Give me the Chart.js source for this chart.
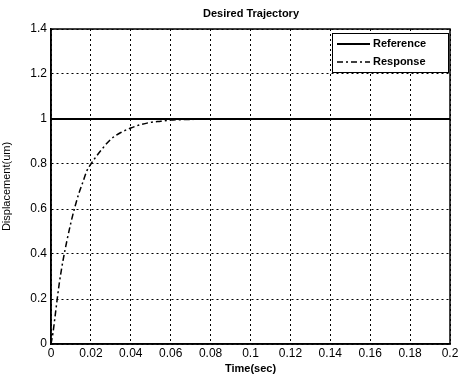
<!DOCTYPE html>
<html lang="en">
<head>
    <meta charset="UTF-8">
    <title>Desired Trajectory</title>
    <script src="https://cdn.jsdelivr.net/npm/chart.js"></script>
    <style>
        html, body { margin: 0; padding: 0; background: #fff; }
        #chartContainer { width: 459px; height: 376px; }
    </style>
</head>
<body>
    <div id="chartContainer">
        <canvas id="myChart"></canvas>
    </div>
    <script>
        // datos
        const timeRef = [0, 0.2];
        const refValues = [1, 1];
        const timeResp = [0, 0.001, 0.002, 0.004, 0.006, 0.008, 0.01, 0.012, 0.014, 0.016, 0.018, 0.02,
            0.025, 0.03, 0.035, 0.04, 0.045, 0.05, 0.055, 0.06, 0.07, 0.08, 0.1, 0.12, 0.14, 0.16, 0.18, 0.2];
        const respValues = [0, 0.05, 0.12, 0.26, 0.37, 0.46, 0.54, 0.61, 0.67, 0.72, 0.77, 0.80,
            0.86, 0.91, 0.94, 0.96, 0.975, 0.985, 0.99, 0.995, 0.998, 1.0, 1.0, 1.0, 1.0, 1.0, 1.0, 1.0];
        const xTicks = [0, 0.02, 0.04, 0.06, 0.08, 0.1, 0.12, 0.14, 0.16, 0.18, 0.2];
        const yTicks = [0, 0.2, 0.4, 0.6, 0.8, 1, 1.2, 1.4];

        const fontName = '"Liberation Sans", Arial, sans-serif';

        const legendBox = {
            id: 'legendBox',
            afterDatasetsDraw(chart) {
                const ctx = chart.ctx;
                const x0 = 332, y0 = 33, w = 116, h = 39;
                ctx.save();
                ctx.fillStyle = '#fff';
                ctx.fillRect(x0, y0, w, h);
                ctx.strokeStyle = '#000';
                ctx.lineWidth = 1;
                ctx.strokeRect(x0 + 0.5, y0 + 0.5, w, h);
                chart.data.datasets.forEach((ds, i) => {
                    const y = y0 + 11 + i * 18;
                    ctx.beginPath();
                    ctx.setLineDash(ds.borderDash || []);
                    ctx.lineWidth = ds.borderWidth;
                    ctx.moveTo(x0 + 5, y);
                    ctx.lineTo(x0 + 38, y);
                    ctx.stroke();
                    ctx.setLineDash([]);
                    ctx.fillStyle = '#000';
                    ctx.font = 'bold 11px ' + fontName;
                    ctx.textBaseline = 'middle';
                    ctx.fillText(ds.label, x0 + 41, y);
                });
                ctx.restore();
            }
        };

        const titlePlugin = {
            id: 'topTitle',
            afterDraw(chart) {
                const ctx = chart.ctx;
                ctx.save();
                ctx.fillStyle = '#000';
                ctx.font = 'bold 11px ' + fontName;
                ctx.textAlign = 'center';
                ctx.textBaseline = 'middle';
                ctx.fillText('Desired Trajectory', 251, 14);
                ctx.restore();
            }
        };

        const ctx = document.getElementById('myChart').getContext('2d');
        new Chart(ctx, {
            type: 'line',
            data: {
                datasets: [
                    {
                        label: 'Reference',
                        data: timeRef.map((t, i) => ({ x: t, y: refValues[i] })),
                        borderColor: '#000',
                        borderWidth: 2,
                        pointRadius: 0,
                        tension: 0
                    },
                    {
                        label: 'Response',
                        data: timeResp.map((t, i) => ({ x: t, y: respValues[i] })),
                        borderColor: '#000',
                        borderWidth: 1.5,
                        borderDash: [6, 3, 2, 3],
                        pointRadius: 0,
                        cubicInterpolationMode: 'monotone'
                    }
                ]
            },
            options: {
                responsive: true,
                maintainAspectRatio: false,
                animation: false,
                layout: { padding: { top: 29, right: 9, left: 0, bottom: 0 } },
                plugins: {
                    legend: { display: false },
                    title: { display: false },
                    tooltip: { enabled: false }
                },
                scales: {
                    x: {
                        type: 'linear',
                        min: 0,
                        max: 0.2,
                        afterBuildTicks: (scale) => { scale.ticks = xTicks.map(v => ({ value: v })); },
                        afterFit: (scale) => {
                            scale.height = 32;
                            scale.paddingLeft = 0;
                            scale.paddingRight = 0;
                        },
                        ticks: {
                            color: '#000',
                            font: { family: fontName, size: 12 },
                            padding: 2,
                            maxRotation: 0,
                            callback: (v) => String(+v.toFixed(2))
                        },
                        grid: {
                            color: '#000',
                            lineWidth: 1,
                            drawTicks: false
                        },
                        border: { color: '#000', width: 1.5, dash: [2, 3] },
                        title: {
                            display: true,
                            text: 'Time(sec)',
                            color: '#000',
                            font: { family: fontName, size: 11, weight: 'bold' },
                            padding: { top: 0, bottom: 0 }
                        }
                    },
                    y: {
                        min: 0,
                        max: 1.4,
                        afterBuildTicks: (scale) => { scale.ticks = yTicks.map(v => ({ value: v })); },
                        afterFit: (scale) => {
                            scale.width = 51;
                            scale.paddingTop = 0;
                            scale.paddingBottom = 0;
                        },
                        ticks: {
                            color: '#000',
                            font: { family: fontName, size: 12 },
                            padding: 4,
                            callback: (v) => String(+v.toFixed(1))
                        },
                        grid: {
                            color: '#000',
                            lineWidth: 1,
                            drawTicks: false
                        },
                        border: { color: '#000', width: 1.5, dash: [2, 3] },
                        title: {
                            display: true,
                            text: 'Displacement(um)',
                            color: '#000',
                            font: { family: fontName, size: 11 },
                            padding: { top: 0, bottom: 2 }
                        }
                    }
                }
            },
            plugins: [legendBox, titlePlugin, {
                id: 'frame',
                beforeDatasetsDraw(chart) {
                    // cuadro solido alrededor del area
                    const a = chart.chartArea;
                    const c = chart.ctx;
                    c.save();
                    c.strokeStyle = '#000';
                    c.lineWidth = 1.5;
                    c.setLineDash([]);
                    c.strokeRect(a.left, a.top, a.right - a.left, a.bottom - a.top);
                    c.restore();
                }
            }]
        });
    </script>
</body>
</html>
